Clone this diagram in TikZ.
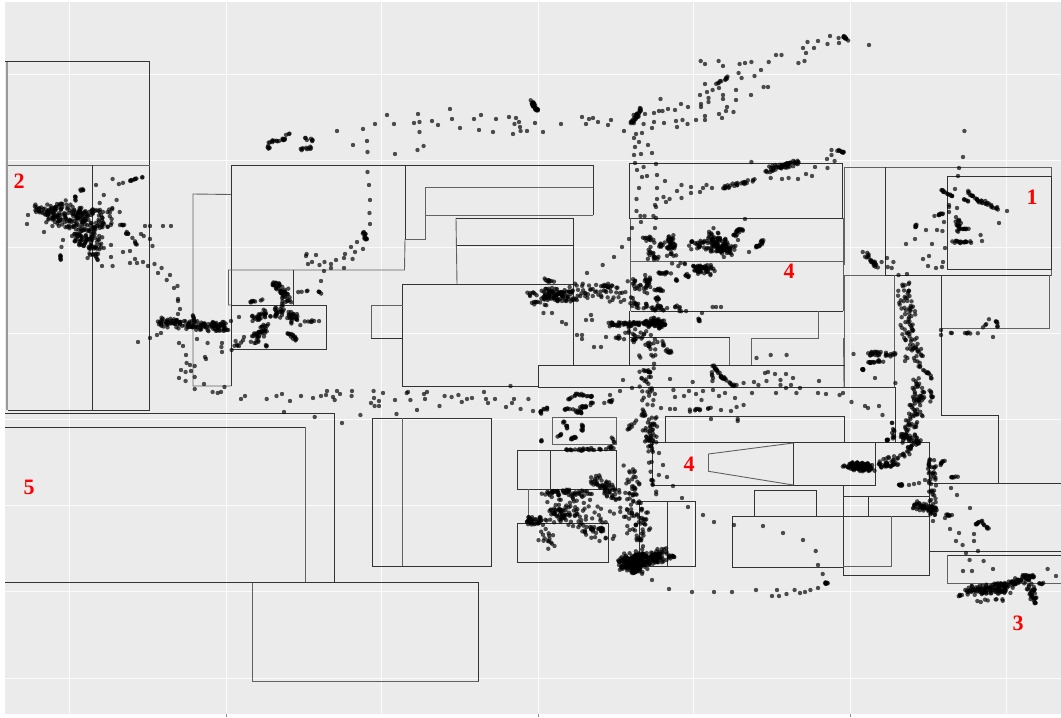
\documentclass[tikz,border=0pt]{standalone}
\usepackage{fontspec}
\setmainfont{Liberation Serif}

\definecolor{panelgray}{HTML}{EBEBEB}
\tikzset{
  wall/.style={draw=black!80,line width=0.75pt},
  softwall/.style={draw=black!62,line width=0.9pt},
  gridline/.style={draw=white,line width=0.5pt,opacity=0.8},
  trackdot/.style={fill=black,opacity=0.68},
  zonelabel/.style={text=red,font=\fontsize{22}{22}\selectfont\bfseries,inner sep=0pt}
}
\newcommand{\dotstrip}[6]{%
  \foreach \i in {1,...,#6}{%
    \pgfmathsetmacro{\tpos}{rnd}%
    \pgfmathsetmacro{\rpos}{1.9*#5*sqrt(rnd)}%
    \pgfmathsetmacro{\apos}{360*rnd}%
    \pgfmathsetmacro{\xpos}{#1+(#3-#1)*\tpos+\rpos*cos(\apos)}%
    \pgfmathsetmacro{\ypos}{#2+(#4-#2)*\tpos+\rpos*sin(\apos)}%
    \fill[trackdot] (\xpos,\ypos) circle[radius=2.2pt];%
  }%
}

\begin{document}
\begin{tikzpicture}[x=1pt,y=-1pt]
\pgfmathsetseed{2718}
\useasboundingbox (0,0) rectangle (1061,718);
\fill[white] (0,0) rectangle (1061,718);
\fill[panelgray] (5,2) rectangle (1061,714);

\foreach \gx in {69,226,381,538,693,850,1006}
  \draw[gridline] (\gx,2) -- (\gx,714);
\foreach \gy in {74,160,247,333,419,505,591,678}
  \draw[gridline] (5,\gy) -- (1061,\gy);
\foreach \gx in {226,538,850}
  \draw[black!45,line width=0.6pt] (\gx,714) -- (\gx,717);

\draw[black!40,line width=2pt] (7,61) -- (7,410);
\draw[wall] (5,61.5) -- (149.5,61.5) -- (149.5,410.5) -- (8,410.5);
\draw[softwall] (8,165) -- (149.5,165);
\draw[wall] (92.5,165) -- (92.5,410.5);

\draw[softwall] (231,194.5) -- (193,194) -- (193,386) -- (231,386);
\draw[wall] (231,386) -- (231,165) -- (593,165) -- (593,215);
\draw[wall] (405,165) -- (405,239);
\draw[softwall] (405,239) -- (425,239) -- (425,187.5) -- (593,187.5);
\draw[softwall] (425,215) -- (593,215);
\draw[softwall] (405,239) -- (404.5,270) -- (228.5,270) -- (228.5,305) -- (231,305);
\draw[wall] (293.5,270) -- (293.5,305);
\draw[wall] (231,305) rectangle (326,349.7);
\draw[softwall] (456,218) -- (457,284);
\draw[wall] (456,218) -- (573.5,218) -- (573.5,365);
\draw[wall] (457,245) -- (573.5,245);
\draw[wall] (573.5,284) -- (402.5,284) -- (402.5,386) -- (538.5,386);
\draw[softwall] (402.5,305) -- (371,305) -- (371,338.5);
\draw[wall] (371,338.5) -- (402.5,338.5);

\draw[wall] (629,163.3) rectangle (842.7,218.3);
\draw[softwall] (630.7,218.3) -- (630.7,311);
\draw[softwall] (630.7,261.7) -- (843,261.7);
\draw[wall] (630.7,311.3) -- (842.7,311.3);
\draw[softwall] (843.5,218) -- (843.5,311);
\draw[wall] (629,311.3) -- (629,365);
\draw[softwall] (818,311.3) -- (818,338) -- (751,338) -- (751,365);
\draw[wall] (629,337.5) -- (729.5,337.5);
\draw[softwall] (729.5,337.5) -- (729.5,365);
\draw[softwall] (843.5,338) -- (844,387);

\draw[softwall] (844,167) -- (1051,167) -- (1051,275) -- (844,275);
\draw[softwall] (844,167) -- (844,265);
\draw[wall] (885.6,167) -- (885.6,275) -- (1051,275);
\draw[wall] (947.5,176) rectangle (1051,269.3);
\draw[softwall] (844,275) -- (844,387);
\draw[wall] (941.8,275) -- (941.8,415.3) -- (998.4,415.3) -- (998.4,483.7);
\draw[softwall] (894.4,275) -- (894.4,387);
\draw[softwall] (1049.3,275) -- (1049.3,328) -- (941.8,328);

\draw[wall] (538.5,365.3) -- (844.5,365.3);
\draw[wall] (538.5,365.3) -- (538.5,387.3) -- (895.3,387.3) -- (895.3,442.3);
\draw[wall] (665.6,442.3) -- (665.6,416.7) -- (844.5,416.7) -- (844.5,442.3);
\draw[wall] (652.3,442.3) rectangle (875.4,485.3);
\draw[wall] (793.2,442.3) -- (793.2,485.3);
\draw[softwall] (793.2,443) -- (708.5,454) -- (708.5,471.3) -- (793.2,485);
\draw[wall] (875.4,442.3) -- (929,442.3) -- (929,575.3) -- (843.3,575.3) -- (843.3,485.3);
\draw[wall] (732.8,516.3) rectangle (843.3,567.3);
\draw[wall] (843.3,516.3) -- (929,516.3);
\draw[wall] (843.3,496.3) -- (929,496.3);
\draw[wall] (868.4,496.3) -- (868.4,516.3);
\draw[softwall] (891.6,516.3) -- (891.6,566.3) -- (843.3,566.3);
\draw[wall] (754.2,516.3) -- (754.2,490.7) -- (816.4,490.7) -- (816.4,516.3);
\draw[wall] (929,551.3) -- (1061,551.3);
\draw[wall] (1061,555.3) -- (947.8,555.3);
\draw[softwall] (947.8,555.3) -- (947.8,583.3) -- (1061,583.3);
\draw[wall] (930,483.7) -- (1061,483.7);

\draw[softwall] (552,417.3) rectangle (616.5,444);
\draw[wall] (517.4,450.3) rectangle (616.5,489.3);
\draw[wall] (550.4,450.3) -- (550.4,489.3);
\draw[softwall] (528.6,489.3) -- (528.6,523.3);
\draw[wall] (528.6,489.3) -- (608.4,489.3);
\draw[wall] (517.4,523.3) rectangle (608.4,562.3);
\draw[wall] (639.3,501.3) rectangle (695,566.3);
\draw[wall] (667.4,501.3) -- (667.4,566.3);

\draw[wall] (5,413.3) -- (334.7,413.3) -- (334.7,582.7);
\draw[wall] (5,427.3) -- (305,427.3);
\draw[softwall] (305,427.3) -- (305,582.7);
\draw[wall] (5,582.7) -- (478.5,582.7) -- (478.5,681.7);
\draw[softwall] (252.9,582.7) -- (252.9,681.7) -- (478.5,681.7);
\draw[wall] (372.5,418) rectangle (491.5,566.3);
\draw[softwall] (402.6,418) -- (402.6,566.3);

\foreach \p in {(337,131),(353,145),(363,129),(367,141),(367.5,152),(375,124),(387,115),(394,124),(395,154),(414,123),(418,114),(419.5,122),(419.5,132),(417.5,150),(423.6,146),(432,121),(438,125),(450,109),(452,119),(460,128),(474,119),(481,115),(479,130),(493,132),(496,119),(509,117),(516,118),(519,122),(514.5,124),(520,127),(520.6,131),(527,131),(513,134),
(367.5,172),(369,185),(370,200),(369.5,213),(370,224),(357,242),(351,247),(355,252),(363,249),(345,254),(352.6,259),(344,258),(336,260),(331,264),(331,268),(344,268),(324,271),(321,281),(319.5,292),(306.6,254),(306,256),(316,255),(312,262),(308,264),(319.5,265),(324.5,262),
(27,224),(28,215),(44,232),(52.4,226),(63,240),(72,236),(61.5,247),(145,226),(150,226),(163,226),(171,226),(123,252),(130,251),(130,263),(135,259),(137,263),(143,262),(148,266),(154.5,264),(161.6,268),(158,273),(170,275),(166.7,280),(177.5,286),(174,288),(178,299),(178,301),(180,309),(178,314),(152.5,246),(150,239),(143.7,236),(141,234),(116.6,200),(103.8,195),(112.6,179),(96,185),(99.7,203),(119.7,212),(111,245),(103.8,248),(111,257),(102,266),(112.6,266),(97.7,260),(87.6,258),
(138,342),(150,338),(157,335),(161,333),(179,343),(183,346),(197,339),(207.6,343),(222,343),(221.4,347),(222,352),(231.6,350),(186,355),(205,357),(239,346),(235.6,341),(244,337),(239,317),(231,321),(186.6,363),(190,365),(194.7,366),(181,370),(185.6,372),(191,371),(194.7,377),(179,378),(185.6,381),(194.7,389),(204,384),(212.6,392),(217.7,393),(221,392),(224.5,387),(206,359),
(241,399),(245,396),(266.7,399),(276.5,396),(282,394),(290,401),(301,396),(313,398),(321,396),(326,395),(327,391),(333,397),(334.7,400),(337,391),(340,394),(352,391),(351.6,396),(373.6,391),(374,398),(371,403),(374.6,406),(379,401),(379,406),(383,393),(395,400),(396.5,414),(406.7,393),(408,392),(410.4,400),(417,410),(424,394),(427,392),(425,399),(439.5,406),(444.6,396),(451.6,397),(458.4,395),(461.8,402),(467,399),(472,398),(484,392),(486,399),(488,403),(495,399),(506,407),(512,403),(514,399),(520.6,409),(528.4,399),(510.5,386),(284,412),(314.7,417),(342,423),(360.4,415),(533,411)}
  \fill[trackdot] \p circle[radius=2.2pt];

\foreach \p in {(582,117),(586,124),(589,119),(593,118),(598,122),(608,125),(611,120),(561,124),(543,132),(535,123),(624,131),(645,114),(654,113),(659,111),(662.5,111),(668,109),(675,110),(681,104),(688,107),(660.5,99),(643.6,124),(652,128),(654,122),(664,123),(676,121),(677,127),(682.5,120),(687.5,124),(696,120),(705,116),(705,120),(700,95),(701,104),(701,107),(708.5,98),(708.5,102),(705,84),(707,92),(712.6,90),(719,88),(723,95),(723,99),(727,107),(726,111),(733.5,112),(719,114),(722,118),(736,90),(736,100),(751,95),(763.6,87),(768,87),(741.6,78),(738.6,73),(754.5,76),(761,70),(739.6,64),(745,63),(751.4,62),(768.7,62),(776,55),(781.5,55),(798.4,63),(804.5,61),(803,48),(806,53),(807.5,42),(814,48),(818,41),(827.5,44),(830,36),(838.6,38),(839,43),(700.7,61),(705,64),(718.6,61),(723,66),(869,45),
(636,134),(642,133),(634,138),(639,142),(635,147),(648,145),(634,155),(641,154),(652,153),(635,163),(656,164),(643.6,167),(637,170),(647,176),(657,175),(642,177),(665,181),(639,188),(657,188),(677,191),(681.5,185),(691,187),(691,193),(700,192),(703,188),(706.5,185),(712,188),(681.5,198),(669.6,199),(663.5,197),(657,199),(666,202),(636.5,199),(656,207),(655,205),(636.5,211),(640.5,216),(644.6,216),(653.4,216),(656,218),(641,222),(632,228),(655,228),(629,239),(622,247),(614,257),(602.7,265),(587,273),
(751.4,162),(770.7,178),(782,179),(788.6,178),(798,179),(806,174),(815,167),(812,176),(827.5,168),(827,159),(831.5,155),(831.5,150),(834.6,161),(745,219),(738,240),(749,252),(712.6,307),(716,307),(721,307),(702,313),(543.5,313),(552,313),(562,322),(566,324),(577,335),(582,335),(582,339),(591,315),(586,320),(592,320),(594,347),(601,347),(606,337),(756.5,358),(770.7,355),(786.6,355),
(765,373),(768,372),(775,374),(786,374),(793,378),(791,385),(780.5,380),(780.5,385),(766.5,381),(758.4,385),(754,382),(743.6,383),(736.6,385),(819,381),(800,388),(796.4,393),(786,388),(776,393),(752,393),(735,398),(725,393),(719,396),(713,390),(703,391),(696,394),(689,391),(684,396),(675,397),(673.4,390),(701.5,400),(692.7,382),(670,379),(623,380),(632,388),(620,391),(610,395),(661,408),(670,409),(675,409),(721,410),(731,411),(736.6,407),(743.6,405),(737.7,419),(737.7,421),(711,419),(682,498),(688,507),(703,515),(714,522),(734,525),(763,526),(783,533),(803,540),(815.7,551),(818,565),(822.7,574),(818,588),(810.4,590),(805,592),(800,593),(794.6,590),(786.5,594),(779,596),(772,596),(777,590),(756,590),(732,592),(714,592),(692,592),(669,589),(652,580),(633.7,573),(659,453),(663,465),(667,477),(673,486),(652,480),(652,448),(653,440)}
  \fill[trackdot] \p circle[radius=2.2pt];

\foreach \p in {(964.4,131),(963,157),(959,168),(958,176),(955,189),(949,207),(1007,211),(999,223),(980.6,235),(982,241),(926,230),(937,230),(942.4,231),(915,239),(906,244),(932,244),(945,248),(929,256),(923,259),(943,262),(942,267),(928,266),(936,268),(949,205),(957,208),(944,222),(949,212),(881.6,262),(887,258),(893.4,262),(887.7,267),(891.7,268),(907,274),(898.5,275),(993,337),(941,330),(941,335),(853.5,354),(875,378),(895.4,383),(905,361),(865,406),(868,408),(879,406),(882.5,415),(851.5,402),(843,393),(839.6,395),(826,394),(818,393),(909,485),(914,484),(919,483),(925,480),(951,488),(957,495),(970,508),(974,541),(974,534),(962.6,545),(959,533),(950,529),(956,541),(945,518),(933,521),(966,553),(978,551),(969.6,560),(983.6,561),(963,571),(972,571),(993,569),(1047.6,569),(1056,576)}
  \fill[trackdot] \p circle[radius=2.2pt];

\dotstrip{268}{142}{285}{139}{0.6}{16}
\dotstrip{267}{146}{270}{149}{0.6}{5}
\dotstrip{284}{136}{290}{133}{0.4}{3}
\dotstrip{300}{149}{312}{148}{0.8}{10}
\dotstrip{306}{139}{315}{140}{1.2}{7}
\dotstrip{531}{100}{537}{110}{0.9}{26}
\dotstrip{363}{232}{366}{240}{0.9}{12}

\dotstrip{33}{207}{60}{218}{2}{30}
\dotstrip{50}{213}{105}{222}{6.5}{190}
\dotstrip{78}{235}{98}{245}{5}{75}
\dotstrip{52}{210}{66}{200}{1.5}{8}
\dotstrip{75}{196}{77}{201}{0.7}{5}
\dotstrip{80}{190}{87}{188}{0.7}{5}
\dotstrip{118}{184}{143}{177}{0.3}{12}
\dotstrip{126}{232}{137}{244}{0.6}{10}
\dotstrip{60.5}{255}{60.5}{262}{0.2}{6}
\dotstrip{120}{225}{126}{225}{0.2}{5}
\dotstrip{108}{212}{112}{208}{0.7}{4}
\dotstrip{85}{250}{100}{258}{2.5}{10}

\dotstrip{160}{322}{228}{328}{2.6}{130}
\dotstrip{193}{311}{193}{325}{0.7}{6}
\dotstrip{222}{322}{224}{330}{1.5}{8}

\dotstrip{274}{283}{290}{300}{2}{34}
\dotstrip{285}{287}{278}{315}{2.5}{36}
\dotstrip{252}{318}{270}{312}{2.5}{28}
\dotstrip{255}{340}{265}{325}{3}{40}
\dotstrip{285}{315}{298}{320}{3.5}{28}
\dotstrip{250}{302}{263}{300}{0.6}{8}
\dotstrip{288}{332}{296}{340}{1.1}{14}
\dotstrip{235}{347}{244}{340}{0.7}{5}
\dotstrip{265}{345}{268}{347}{0.6}{3}
\dotstrip{305}{322}{325}{320}{0.6}{7}
\dotstrip{294}{292}{308}{291}{0.3}{4}
\dotstrip{318}{291}{322}{294}{0.4}{3}

\dotstrip{632}{122}{640}{110}{1.5}{28}
\dotstrip{724}{188}{753}{180}{1.2}{26}
\dotstrip{714}{85}{728}{77}{0.6}{10}
\dotstrip{843}{36}{848}{40}{0.5}{10}
\dotstrip{767}{170}{799}{162}{1.6}{55}
\dotstrip{837.6}{150}{844.4}{153}{0.5}{9}

\dotstrip{642}{236}{655}{240}{1}{10}
\dotstrip{671}{235}{672}{250}{2}{26}
\dotstrip{647}{242}{675}{248}{2}{18}
\dotstrip{692}{244}{736}{250}{3}{60}
\dotstrip{712}{234}{727}{252}{4}{75}
\dotstrip{736}{235}{741}{230}{1.6}{18}
\dotstrip{757}{248}{763}{241}{1}{16}
\dotstrip{647}{250}{654}{258}{3}{10}
\dotstrip{652}{258}{677}{255}{1}{12}
\dotstrip{672}{264}{712}{267}{1.2}{18}
\dotstrip{695}{268}{712}{273}{2.5}{40}
\dotstrip{658}{273}{672}{273}{0.8}{12}
\dotstrip{675}{279}{677}{281}{0.4}{4}
\dotstrip{686}{275}{688}{276}{1.1}{6}
\dotstrip{647}{277}{650}{285}{2.2}{16}
\dotstrip{631}{283}{648}{290}{2.5}{18}
\dotstrip{655}{289}{662}{290}{0.8}{10}
\dotstrip{657}{298}{658}{300}{1.1}{7}
\dotstrip{632}{305}{690}{310}{2}{40}
\dotstrip{697}{318}{701}{323}{0.6}{5}
\dotstrip{608}{325}{667}{322}{1.3}{90}
\dotstrip{648}{322}{665}{325}{3}{40}
\dotstrip{631}{333}{665}{350}{5}{42}
\dotstrip{615}{340}{620}{336}{0.8}{5}
\dotstrip{668}{348}{672}{354}{1.1}{6}
\dotstrip{544}{293}{574}{297}{3.5}{90}
\dotstrip{525}{293}{550}{297}{1.2}{14}
\dotstrip{538}{277}{554}{283}{0.8}{9}
\dotstrip{533}{303}{550}{303}{1.2}{9}
\dotstrip{574}{290}{630}{295}{5}{55}
\dotstrip{603}{286}{613}{286}{0.4}{7}

\dotstrip{646}{350}{650}{450}{4.5}{75}
\dotstrip{650}{420}{655}{490}{3}{26}
\dotstrip{621}{435}{638}{418}{1.1}{8}
\dotstrip{630}{470}{640}{515}{4.5}{38}
\dotstrip{625}{500}{640}{530}{7}{38}
\dotstrip{640}{520}{640}{560}{3}{24}
\dotstrip{713}{366}{722}{377}{0.6}{16}
\dotstrip{722}{377}{735}{386}{0.6}{15}
\dotstrip{712}{372}{713}{385}{0.4}{5}
\dotstrip{689}{411}{710}{408}{0.7}{11}
\dotstrip{825}{584}{828}{582}{0.6}{7}

\dotstrip{568}{400}{577}{394}{0.5}{7}
\dotstrip{577}{394}{598}{397}{0.5}{14}
\dotstrip{540}{413}{549}{407}{0.8}{10}
\dotstrip{561}{408}{584}{413}{0.8}{18}
\dotstrip{580}{408}{594}{403}{0.8}{14}
\dotstrip{603}{403}{615}{400}{0.8}{7}
\dotstrip{563}{420}{568}{430}{0.6}{8}
\dotstrip{582}{423}{582}{433}{0.5}{8}
\dotstrip{571}{439}{577}{436}{0.6}{9}
\dotstrip{557}{436}{562}{434}{0.5}{5}
\dotstrip{541}{441}{543}{440}{0.4}{3}
\dotstrip{563}{450}{615}{448}{0.8}{30}
\dotstrip{612}{438}{614}{446}{0.8}{4}
\dotstrip{594}{478}{615}{495}{3.5}{60}
\dotstrip{543}{492}{591}{493}{1.6}{45}
\dotstrip{556}{513}{566}{513}{3}{32}
\dotstrip{528}{521}{545}{521}{2.2}{36}
\dotstrip{555}{505}{605}{525}{10}{90}
\dotstrip{591}{528}{607}{531}{1.2}{18}
\dotstrip{538}{535}{555}{545}{5}{16}
\dotstrip{622}{564}{665}{555}{4}{190}
\dotstrip{625}{560}{640}{565}{5}{75}
\dotstrip{668}{556}{676}{557}{0.7}{8}
\dotstrip{632}{571}{634}{574}{0.7}{5}

\dotstrip{850}{466}{872}{468}{2.4}{100}
\dotstrip{838}{465}{850}{467}{0.6}{10}
\dotstrip{879}{465}{898}{464}{1.6}{32}
\dotstrip{898}{485}{903}{485}{0.4}{10}

\dotstrip{900}{280}{912}{330}{4.5}{48}
\dotstrip{905}{330}{915}{360}{5}{42}
\dotstrip{918}{366}{928}{373}{0.7}{8}
\dotstrip{928}{373}{931}{378}{0.7}{5}
\dotstrip{919}{381}{918}{408}{3.5}{40}
\dotstrip{928}{385}{932}{401}{1.1}{8}
\dotstrip{917}{408}{907}{438}{4.5}{42}
\dotstrip{903}{436}{917}{441}{1.8}{26}
\dotstrip{907}{450}{919}{441}{1.2}{18}
\dotstrip{893}{421}{893}{438}{0.8}{10}
\dotstrip{886}{440}{891}{440}{0.4}{6}
\dotstrip{879}{465}{907}{451}{2.5}{18}
\dotstrip{932}{461}{932}{505}{2.5}{40}
\dotstrip{914}{505}{937}{512}{2.5}{55}
\dotstrip{942}{515}{953}{515}{0.5}{7}
\dotstrip{939}{466}{945}{460}{0.6}{7}
\dotstrip{949}{478}{958}{476}{0.4}{7}
\dotstrip{974}{526}{981}{520}{0.4}{7}
\dotstrip{981}{520}{991}{532}{0.6}{9}

\dotstrip{970}{590}{1009}{588}{3}{110}
\dotstrip{1009}{585}{1033}{576}{2.5}{50}
\dotstrip{1027}{575}{1033}{600}{2.5}{30}
\dotstrip{1034}{602}{1036}{604}{0.4}{3}
\dotstrip{956}{597}{970}{591}{0.4}{8}
\dotstrip{977}{601}{1002}{600}{0.7}{8}
\dotstrip{1038}{584}{1046}{582}{0.7}{5}

\dotstrip{941.4}{190}{952.6}{197}{0.4}{13}
\dotstrip{932}{217}{944}{213}{0.4}{8}
\dotstrip{967}{191}{979.6}{202}{0.6}{15}
\dotstrip{963}{199}{969.5}{202}{0.4}{5}
\dotstrip{979.6}{200}{1000}{210}{0.9}{18}
\dotstrip{957.6}{217}{959}{230}{1.6}{18}
\dotstrip{963}{229}{969.5}{229}{0.3}{7}
\dotstrip{951}{242}{971}{242}{0.7}{18}
\dotstrip{915.4}{227}{917}{222}{0.4}{5}
\dotstrip{864.7}{253}{876.5}{267}{1.3}{22}
\dotstrip{951}{333}{979.6}{333}{0.4}{8}
\dotstrip{983}{328}{990}{319}{0.4}{4}
\dotstrip{990}{319}{998}{323}{0.4}{3}
\dotstrip{998}{323}{996.6}{333}{0.4}{3}
\dotstrip{868}{353}{898}{355}{1.4}{30}
\dotstrip{861}{368}{865}{371}{0.4}{6}
\dotstrip{868}{363}{882}{361}{0.8}{16}

\node[zonelabel] (zone1) at (1032,197) {1};
\node[zonelabel] (zone2) at (19,181) {2};
\node[zonelabel] (zone3) at (1018,623) {3};
\node[zonelabel] (zone4a) at (789,271) {4};
\node[zonelabel] (zone4b) at (689,464) {4};
\node[zonelabel] (zone5) at (29,487) {5};
\end{tikzpicture}
\end{document}
